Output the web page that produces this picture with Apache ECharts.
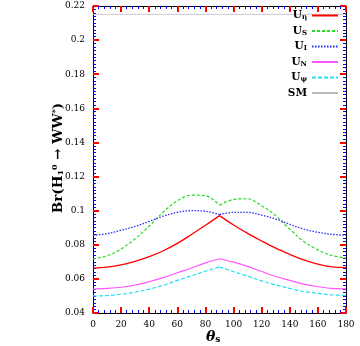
<!DOCTYPE html>
<html>
<head>
<meta charset="utf-8">
<script src="https://cdn.jsdelivr.net/npm/echarts@6/dist/echarts.min.js"></script>
<style>
  html, body { margin: 0; padding: 0; background: #fff; }
  #chart { width: 360px; height: 346px; }
</style>
</head>
<body>
<div id="chart"></div>
<script>
// theta_s grid (degrees) and branching ratios
const thetas = [0, 10, 20, 30, 40, 50, 60, 70, 80, 90, 100, 110, 120, 130, 140, 150, 160, 170, 180];
const uEta = [0.0663, 0.0669, 0.0682, 0.0703, 0.0730, 0.0765, 0.0808, 0.0860, 0.0914, 0.0971,
  0.0916, 0.0867, 0.0822, 0.0780, 0.0744, 0.0711, 0.0686, 0.0670, 0.0666];
const uS = [0.0717, 0.0735, 0.0775, 0.0835, 0.0910, 0.0992, 0.1058, 0.1091, 0.1088, 0.1032,
  0.1066, 0.1070, 0.1029, 0.0971, 0.0892, 0.0819, 0.0770, 0.0737, 0.0723];
const uI = [0.0856, 0.0865, 0.0885, 0.0908, 0.0937, 0.0968, 0.0990, 0.1000, 0.0997, 0.0977,
  0.0990, 0.0990, 0.0974, 0.0951, 0.0920, 0.0892, 0.0873, 0.0861, 0.0856];
const uN = [0.0540, 0.0544, 0.0551, 0.0564, 0.0584, 0.0607, 0.0636, 0.0664, 0.0694, 0.0718,
  0.0698, 0.0673, 0.0643, 0.0614, 0.0591, 0.0569, 0.0554, 0.0544, 0.0542];
const uPsi = [0.0500, 0.0502, 0.0510, 0.0522, 0.0540, 0.0563, 0.0591, 0.0618, 0.0645, 0.0670,
  0.0643, 0.0616, 0.0588, 0.0565, 0.0544, 0.0526, 0.0515, 0.0506, 0.0503];
const smTheta = [0, 180];
const smValue = [0.2151, 0.2151];

const FONT = "DejaVu Serif";
const chart = echarts.init(document.getElementById("chart"));

// split every curve at the kink (theta = 90) so each half is smoothed on its own
function halves(name, values, color, type, width) {
  const pts = thetas.map((t, i) => [t, values[i]]);
  const k = thetas.indexOf(90);
  const base = {
    name: name,
    type: "line",
    smooth: 0.35,
    showSymbol: false,
    symbol: "none",
    lineStyle: { color: color, width: width, type: type },
    itemStyle: { color: color },
  };
  return [
    Object.assign({}, base, { data: pts.slice(0, k + 1) }),
    Object.assign({}, base, { data: pts.slice(k) }),
  ];
}

const legendNames = {
  "U_eta": "{b|U}{s|η}",
  "U_S": "{b|U}{s|S}",
  "U_I": "{b|U}{s|I}",
  "U_N": "{b|U}{s|N}",
  "U_psi": "{b|U}{s|ψ}",
  "SM": "{b|SM}",
};

const axisFont = { fontFamily: FONT, fontSize: 9, color: "#000" };

function frameAxis(pos, min, max, interval, split, labels) {
  return {
    type: "value", min: min, max: max, interval: interval, position: pos,
    axisLine: { show: true, onZero: false, lineStyle: { color: "#000" } },
    axisTick: { show: true, inside: true, length: 6, lineStyle: { color: "#f00", width: 2 } },
    minorTick: { show: true, splitNumber: split, length: 3, lineStyle: { color: "#00f", width: 1 } },
    splitLine: { show: false },
    axisLabel: labels ? Object.assign({ margin: pos === "left" ? 8 : 7 }, axisFont) : { show: false },
  };
}

const option = {
  animation: false,
  grid: { left: 93, right: 14, top: 6, bottom: 33, outerBoundsMode: "none" },
  legend: {
    right: 21,
    top: 10,
    padding: 0,
    orient: "vertical",
    align: "right",
    itemWidth: 26,
    itemHeight: 12,
    itemGap: 4.5,
    selectedMode: false,
    itemStyle: { opacity: 0 },
    data: ["U_eta", "U_S", "U_I", "U_N", "U_psi", "SM"],
    formatter: (n) => legendNames[n],
    textStyle: {
      fontFamily: FONT,
      rich: {
        b: { fontFamily: FONT, fontSize: 10.5, fontWeight: "bold", color: "#000" },
        s: { fontFamily: FONT, fontSize: 7, fontWeight: "bold", color: "#000", verticalAlign: "bottom", padding: [4, 0, 0, 0] },
      },
    },
  },
  // axis titles
  graphic: [
    {
      type: "text",
      left: 206,
      top: 330,
      style: {
        text: "{t|θ}{s|s}",
        rich: {
          t: { fontFamily: FONT, fontSize: 14, fontWeight: "bold", fontStyle: "italic", fill: "#000" },
          s: { fontFamily: FONT, fontSize: 9, fontWeight: "bold", fill: "#000", verticalAlign: "bottom", padding: [6, 0, 0, 0] },
        },
      },
    },
    {
      type: "text",
      x: 58,
      y: 158,
      rotation: Math.PI / 2,
      style: {
        text: "{m|Br(H}{sb|1}{sp|0}{m| → WW}{sp|*}{m|)}",
        align: "center",
        verticalAlign: "middle",
        rich: {
          m: { fontFamily: FONT, fontSize: 13.5, fontWeight: "bold", fill: "#000" },
          sb: { fontFamily: FONT, fontSize: 8, fontWeight: "bold", fill: "#000", verticalAlign: "bottom", padding: [6, 0, 0, 0] },
          sp: { fontFamily: FONT, fontSize: 8, fontWeight: "bold", fill: "#000", verticalAlign: "top", padding: [0, 0, 6, 0] },
        },
      },
    },
  ],
  xAxis: [
    frameAxis("bottom", 0, 180, 20, 5, true),
    frameAxis("top", 0, 180, 20, 5, false),
  ],
  yAxis: [
    frameAxis("left", 0.04, 0.22, 0.02, 10, true),
    frameAxis("right", 0.04, 0.22, 0.02, 10, false),
  ],
  series: [
    ...halves("U_eta", uEta, "#ff0000", "solid", 1.3),
    ...halves("U_S", uS, "#22dd22", [3, 2], 1.2),
    ...halves("U_I", uI, "#2a2aff", [1.5, 1.5], 1.3),
    ...halves("U_N", uN, "#ff55ff", "solid", 1.2),
    ...halves("U_psi", uPsi, "#22e0f0", [4, 2], 1.2),
    {
      name: "SM",
      type: "line",
      showSymbol: false,
      symbol: "none",
      data: smTheta.map((t, i) => [t, smValue[i]]),
      lineStyle: { color: "#bbbbbb", width: 0.8, type: "solid" },
      itemStyle: { color: "#bbbbbb" },
    },
  ],
};

chart.setOption(option);
</script>
</body>
</html>
